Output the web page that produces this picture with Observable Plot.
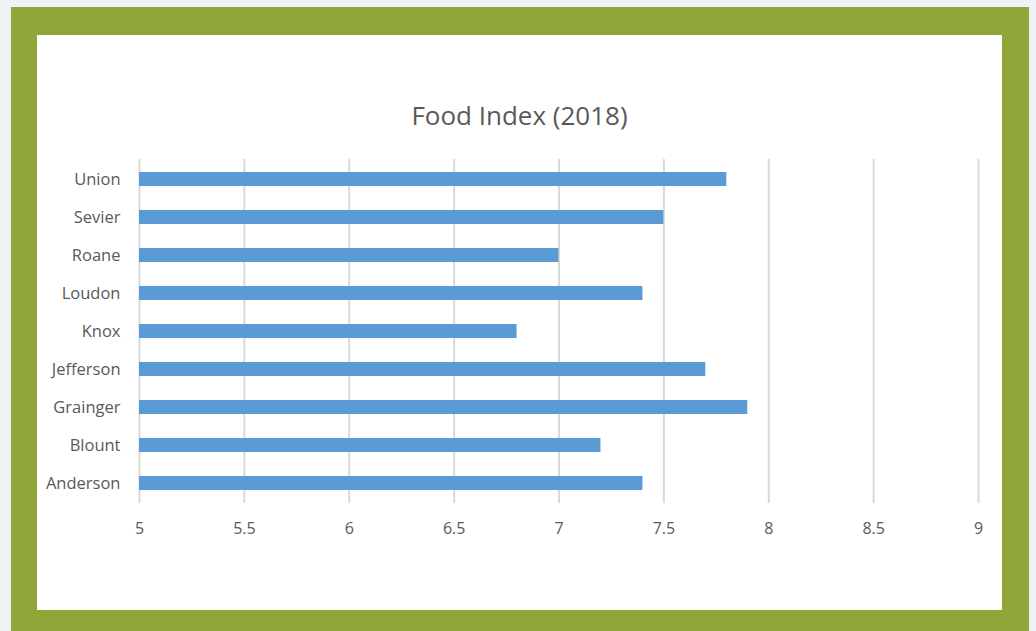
<!DOCTYPE html>
<html>
<head>
<meta charset="utf-8">
<script src="https://cdn.jsdelivr.net/npm/d3@7"></script>
<script src="https://cdn.jsdelivr.net/npm/@observablehq/plot@0.6"></script>
<style>
  html, body { margin: 0; padding: 0; background: #f0f1f3; width: 1036px; height: 631px; overflow: hidden; }
  #frame { position: absolute; left: 11px; top: 7px; width: 1018px; height: 624px; background: #8fa638; }
  #box { position: absolute; left: 37px; top: 35px; width: 965px; height: 575px; background: #ffffff; }
  #title { position: absolute; left: 0; width: 965px; text-align: center; font-family: "Open Sans", sans-serif; font-size: 26px; color: #595959; top: 62px; }
  #chart { position: absolute; left: 0; top: 0; }
</style>
</head>
<body>
<div id="frame"></div>
<div id="box">
  <div id="title">Food Index (2018)</div>
  <div id="chart"></div>
</div>
<script>
const counties = ["Union", "Sevier", "Roane", "Loudon", "Knox", "Jefferson", "Grainger", "Blount", "Anderson"];
const foodIndex = [7.8, 7.5, 7.0, 7.4, 6.8, 7.7, 7.9, 7.2, 7.4];
const xTicks = [5, 5.5, 6, 6.5, 7, 7.5, 8, 8.5, 9];

const data = counties.map((c, i) => ({county: c, value: foodIndex[i]}));

const chart = Plot.plot({
  width: 965,
  height: 575,
  marginLeft: 102,
  marginRight: 24,
  marginTop: 124,
  marginBottom: 107,
  style: {background: "transparent", fontFamily: "'Open Sans', sans-serif", color: "#595959", fontSize: "16px"},
  x: {domain: [5, 9]},
  y: {domain: counties, padding: 0},
  marks: [
    Plot.gridX(xTicks, {stroke: "#d9d9d9", strokeOpacity: 1, strokeWidth: 2}),
    Plot.barX(data, {x1: 5, x2: "value", y: "county", fill: "#5b9bd5", insetTop: 12, insetBottom: 12}),
    Plot.axisX(xTicks, {tickSize: 0, tickPadding: 19, fontSize: 16, fill: "#595959", label: null, tickFormat: d => String(d)}),
    Plot.axisY({tickSize: 0, tickPadding: 19, fontSize: 16.5, fill: "#595959", label: null})
  ]
});
document.getElementById("chart").appendChild(chart);
</script>
</body>
</html>
